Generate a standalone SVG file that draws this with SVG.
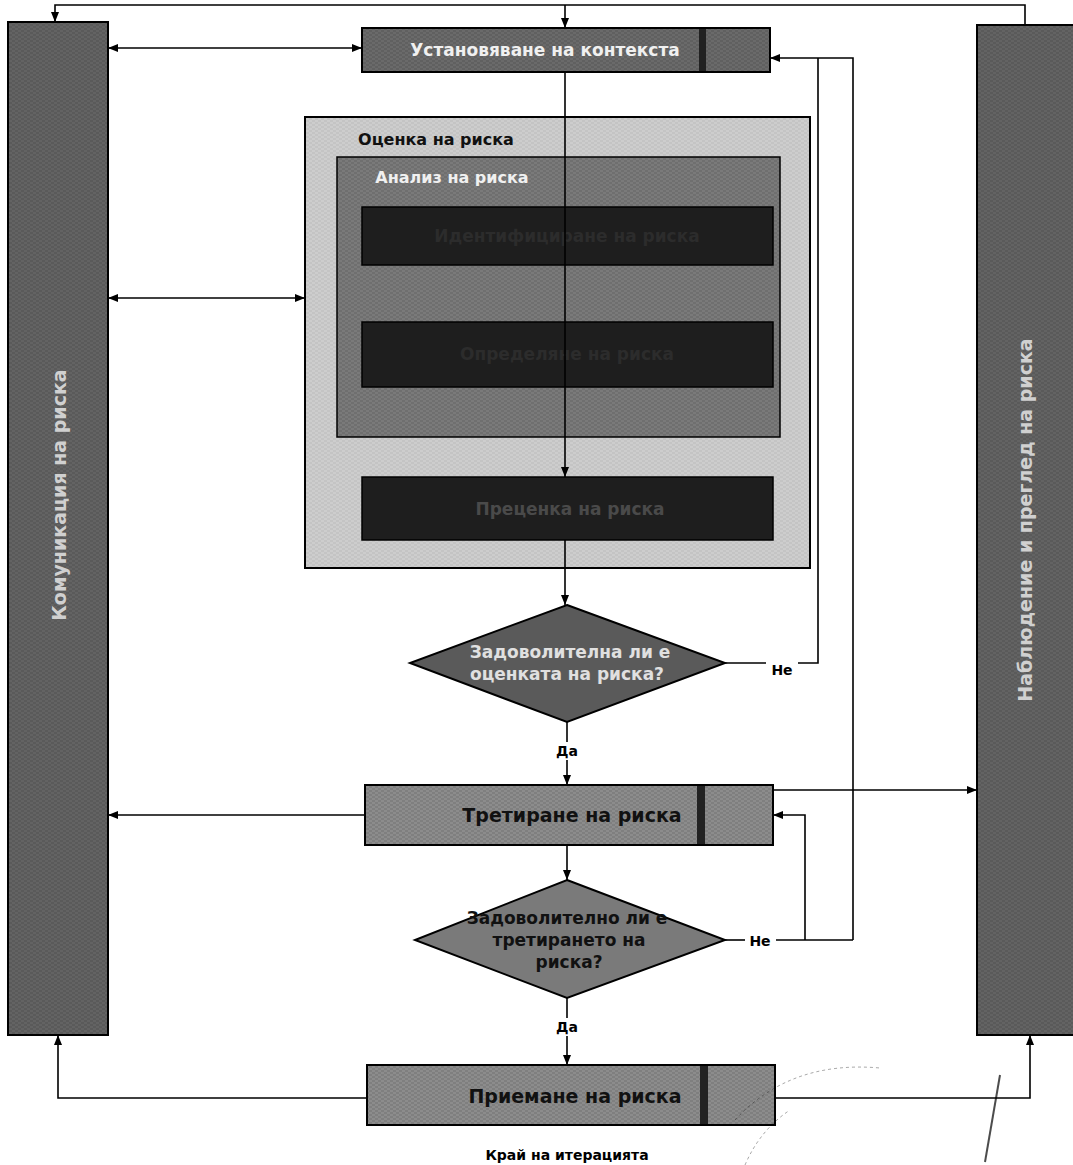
<svg xmlns="http://www.w3.org/2000/svg" width="1073" height="1165" viewBox="0 0 1073 1165">
<defs>
<marker id="ah" viewBox="0 0 10 10" refX="10" refY="5" markerWidth="10" markerHeight="10" markerUnits="userSpaceOnUse" orient="auto-start-reverse">
<path d="M0,1 L10,5 L0,9 Z" fill="#000"/>
</marker>
<pattern id="grain" width="6" height="4" patternUnits="userSpaceOnUse">
<rect width="6" height="4" fill="none"/>
<path d="M0,1 h3 M3,3 h3" stroke="#000" stroke-opacity="0.18" stroke-width="1"/>
</pattern>
</defs>
<style>
.side{fill:#636363;stroke:#000;stroke-width:2}
.box{fill:#8c8c8c;stroke:#000;stroke-width:2}
.ctx{fill:#6a6a6a;stroke:#000;stroke-width:2}
.outer{fill:#cdcdcd;stroke:#000;stroke-width:2}
.inner{fill:#7a7a7a;stroke:#000;stroke-width:1.5}
.dark{fill:#1e1e1e;stroke:#000;stroke-width:1.5}
.dia{fill:#5a5a5a;stroke:#000;stroke-width:2}
.dia2{fill:#7a7a7a;stroke:#000;stroke-width:2}
.band{fill:#222}
.grain{fill:url(#grain)}
.conn{fill:none;stroke:#000;stroke-width:1.6}
.t{font-family:"DejaVu Sans","Noto Sans",sans-serif;font-weight:bold;text-anchor:middle}
.lbl{font-size:14px;fill:#000}
</style>
<rect width="1073" height="1165" fill="#fff"/>

<g id="communication">
<rect class="side" x="8" y="22" width="100" height="1013"/>
<rect class="grain" x="8" y="22" width="100" height="1013"/>
<text class="t" transform="translate(66,495) rotate(-90)" font-size="19" fill="#d0d0d0">Комуникация на риска</text>
</g>

<g id="monitoring">
<rect class="side" x="977" y="25" width="100" height="1010"/>
<rect class="grain" x="977" y="25" width="100" height="1010"/>
<text class="t" transform="translate(1032,520) rotate(-90)" font-size="19" fill="#d0d0d0">Наблюдение и преглед на риска</text>
</g>

<g id="context">
<rect class="ctx" x="362" y="28" width="408" height="44"/>
<rect class="grain" x="362" y="28" width="408" height="44"/>
<rect class="band" x="699" y="29" width="7" height="42"/>
<text class="t" x="545" y="56" font-size="17" fill="#f0f0f0">Установяване на контекста</text>
</g>

<g id="assessment">
<rect class="outer" x="305" y="117" width="505" height="451"/>
<rect class="grain" x="305" y="117" width="505" height="451" opacity="0.5"/>
<text class="t" x="436" y="145" font-size="16" fill="#111">Оценка на риска</text>
</g>

<g id="analysis">
<rect class="inner" x="337" y="157" width="443" height="280"/>
<rect class="grain" x="337" y="157" width="443" height="280"/>
<text class="t" x="452" y="183" font-size="16" fill="#f0f0f0">Анализ на риска</text>
</g>

<g id="identification">
<rect class="dark" x="362" y="207" width="411" height="58"/>
<text class="t" x="567" y="242" font-size="17" fill="#2c2c2c">Идентифициране на риска</text>
</g>

<g id="estimation">
<rect class="dark" x="362" y="322" width="411" height="65"/>
<text class="t" x="567" y="360" font-size="17" fill="#2c2c2c">Определяне на риска</text>
</g>

<g id="evaluation">
<rect class="dark" x="362" y="477" width="411" height="63"/>
<text class="t" x="570" y="515" font-size="17" fill="#4a4a4a">Преценка на риска</text>
</g>

<g id="decision1">
<polygon class="dia" points="567,605 725,663 567,722 410,663"/>
<text class="t" x="570" y="658" font-size="17" fill="#e0e0e0">Задоволителна ли е</text>
<text class="t" x="567" y="680" font-size="17" fill="#e0e0e0">оценката на риска?</text>
</g>

<g id="treatment">
<rect class="box" x="365" y="785" width="408" height="60"/>
<rect class="grain" x="365" y="785" width="408" height="60"/>
<rect class="band" x="697" y="786" width="8" height="58"/>
<text class="t" x="572" y="822" font-size="19" fill="#111">Третиране на риска</text>
</g>

<g id="decision2">
<polygon class="dia2" points="567,880 725,940 567,998 415,940"/>
<text class="t" x="567" y="924" font-size="17" fill="#111">Задоволително ли е</text>
<text class="t" x="569" y="946" font-size="17" fill="#111">третирането на</text>
<text class="t" x="569" y="968" font-size="17" fill="#111">риска?</text>
</g>

<g id="acceptance">
<rect class="box" x="367" y="1065" width="408" height="60"/>
<rect class="grain" x="367" y="1065" width="408" height="60"/>
<rect class="band" x="700" y="1066" width="8" height="58"/>
<text class="t" x="575" y="1103" font-size="19" fill="#111">Приемане на риска</text>
</g>

<g id="end">
<text class="t" x="567" y="1160" font-size="14" fill="#000">Край на итерацията</text>
</g>

<g id="labels">
<text class="t lbl" x="782" y="675">Не</text>
<text class="t lbl" x="567" y="756">Да</text>
<text class="t lbl" x="760" y="946">Не</text>
<text class="t lbl" x="567" y="1032">Да</text>
</g>

<g id="connectors">
<polyline class="conn" points="1025,25 1025,5 55,5 55,22" marker-end="url(#ah)"/>
<line class="conn" x1="565" y1="5" x2="565" y2="28" marker-end="url(#ah)"/>
<line class="conn" x1="108" y1="48" x2="362" y2="48" marker-start="url(#ah)" marker-end="url(#ah)"/>
<line class="conn" x1="108" y1="298" x2="305" y2="298" marker-start="url(#ah)" marker-end="url(#ah)"/>
<line class="conn" x1="565" y1="72" x2="565" y2="477" marker-end="url(#ah)"/>
<line class="conn" x1="565" y1="540" x2="565" y2="605" marker-end="url(#ah)"/>
<line class="conn" x1="725" y1="663" x2="766" y2="663"/>
<polyline class="conn" points="798,663 818,663 818,58"/>
<polyline class="conn" points="853,940 853,58 770,58" marker-end="url(#ah)"/>
<line class="conn" x1="567" y1="722" x2="567" y2="742"/>
<line class="conn" x1="567" y1="760" x2="567" y2="785" marker-end="url(#ah)"/>
<line class="conn" x1="365" y1="815" x2="108" y2="815" marker-end="url(#ah)"/>
<line class="conn" x1="773" y1="790" x2="977" y2="790" marker-end="url(#ah)"/>
<line class="conn" x1="567" y1="845" x2="567" y2="880" marker-end="url(#ah)"/>
<line class="conn" x1="725" y1="940" x2="745" y2="940"/>
<line class="conn" x1="776" y1="940" x2="853" y2="940"/>
<polyline class="conn" points="805,940 805,815 773,815" marker-end="url(#ah)"/>
<line class="conn" x1="567" y1="998" x2="567" y2="1018"/>
<line class="conn" x1="567" y1="1036" x2="567" y2="1065" marker-end="url(#ah)"/>
<polyline class="conn" points="367,1098 58,1098 58,1035" marker-end="url(#ah)"/>
<polyline class="conn" points="775,1098 1030,1098 1030,1035" marker-end="url(#ah)"/>
</g>

<g id="stamp" fill="none" stroke="#000" stroke-opacity="0.35" stroke-width="1" stroke-dasharray="3 3">
<path d="M735,1120 Q790,1060 880,1068"/>
<path d="M745,1165 Q760,1130 790,1110"/>
<path d="M1000,1075 L985,1162" stroke-opacity="0.7" stroke-width="2" stroke-dasharray="none"/>
</g>
</svg>
